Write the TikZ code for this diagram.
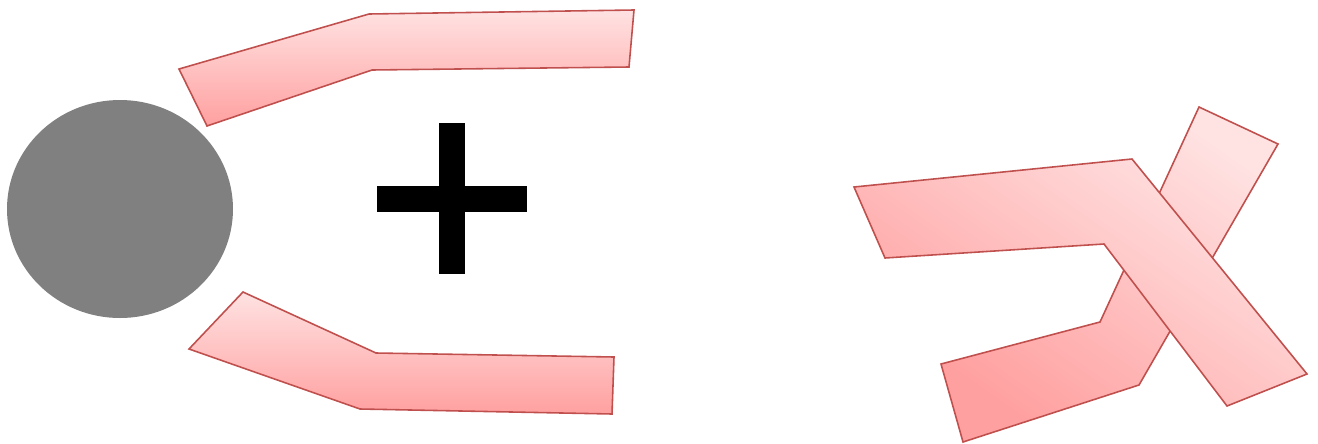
\documentclass[tikz,border=0pt]{standalone}
\usepackage{tikz}

\definecolor{pinktop}{RGB}{255,226,226}
\definecolor{pinkbot}{RGB}{255,160,160}
\definecolor{pinkedge}{RGB}{192,80,77}
\definecolor{ballgrey}{RGB}{128,128,128}

\begin{document}
\begin{tikzpicture}[x=0.02cm,y=-0.02cm,
  arm/.style={draw=pinkedge,line width=0.9pt,line join=miter,top color=pinktop,bottom color=pinkbot},
  tiltarm/.style={arm,shading angle=-35}]
\useasboundingbox (0,0) rectangle (1318,443);
% ball and two open arms
\fill[ballgrey] (120,209) ellipse (113 and 109);
\draw[arm] (179,69) -- (369,14) -- (634,10) -- (629,67) -- (372,70) -- (207,126) -- cycle;
\draw[arm] (243,292) -- (376,353) -- (614,357) -- (612,414) -- (360,409) -- (189,349) -- cycle;
% plus sign
\fill (439,123) rectangle (465,274);
\fill (377,186) rectangle (527,212);
% arms crossed
\draw[tiltarm] (1199,107) -- (1278,144) -- (1139,385) -- (963,442) -- (941,364) -- (1100,322) -- cycle;
\draw[tiltarm] (854,187) -- (1132,159) -- (1307,374) -- (1227,406) -- (1104,244) -- (885,258) -- cycle;
\end{tikzpicture}
\end{document}
